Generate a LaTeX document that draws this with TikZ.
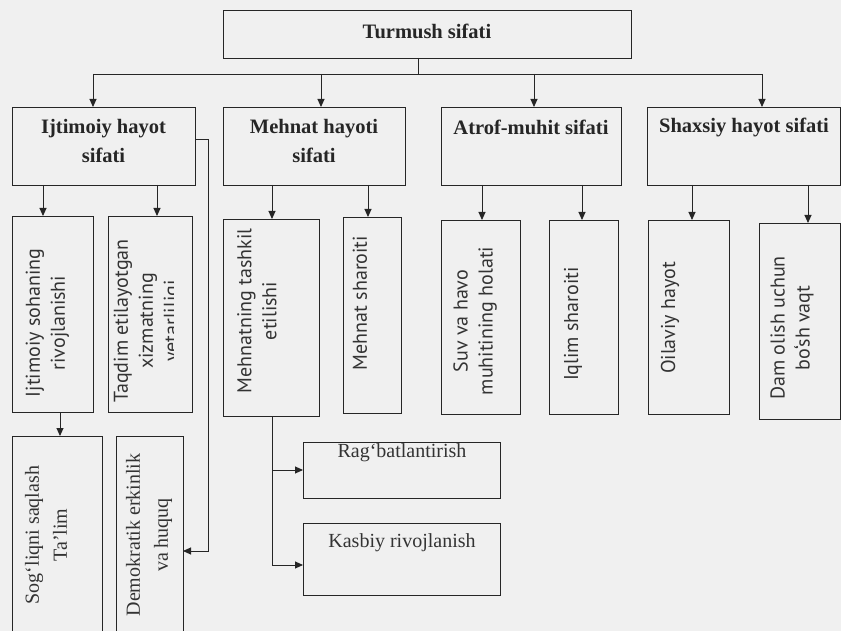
\documentclass[tikz,border=0pt]{standalone}
\usepackage{fontspec}
\setmainfont{Liberation Serif}
\newfontfamily\rotsans{PT Sans}
\usetikzlibrary{arrows.meta}
\begin{document}
\begin{tikzpicture}[x=1pt,y=-1pt,
  ln/.style={draw=black!85, line width=0.9pt},
  arr/.style={ln, -{Triangle[length=8pt,width=7pt]}},
  bx/.style={ln, inner sep=0pt, outer sep=0pt},
  lbl/.style={font=\fontsize{20.5}{29}\selectfont\bfseries, align=center, inner sep=0pt, text=black!85},
  rt/.style={font=\rotsans\fontsize{20}{25}\selectfont, align=center, rotate=90, inner sep=0pt, text=black!80},
  rs/.style={font=\fontsize{20}{28}\selectfont, align=center, rotate=90, inner sep=0pt, text=black!80},
  st/.style={font=\fontsize{20}{28}\selectfont, align=center, inner sep=0pt, text=black!80}]
\useasboundingbox (0,0) rectangle (841,631);
\fill[black!6] (0,0) rectangle (841,631);

% boxes
\node[bx, minimum width=408pt, minimum height=48pt] (top) at (427,34) {};
\node[bx, minimum width=183pt, minimum height=78pt] (ijt) at (103.5,146) {};
\node[bx, minimum width=182pt, minimum height=78pt] (meh) at (314,146) {};
\node[bx, minimum width=180pt, minimum height=78pt] (atr) at (531,146) {};
\node[bx, minimum width=193pt, minimum height=78pt] (sha) at (743.5,146) {};

\node[bx, minimum width=81pt, minimum height=196pt] (b1) at (52.5,314) {};
\node[bx, minimum width=84pt, minimum height=196pt] (b2) at (150,314) {};
\node[bx, minimum width=96pt, minimum height=197pt] (b3) at (271,317.5) {};
\node[bx, minimum width=58pt, minimum height=196pt] (b4) at (372,315) {};
\node[bx, minimum width=79pt, minimum height=194pt] (b5) at (480.5,317) {};
\node[bx, minimum width=69pt, minimum height=194pt] (b6) at (583.5,317) {};
\node[bx, minimum width=81pt, minimum height=194pt] (b7) at (688.5,317) {};
\node[bx, minimum width=81pt, minimum height=196pt] (b8) at (799.5,321) {};

\node[bx, minimum width=90pt, minimum height=204pt] (b9) at (57,538) {};
\node[bx, minimum width=67pt, minimum height=204pt] (b10) at (149.5,538) {};
\node[bx, minimum width=197pt, minimum height=56pt] (b11) at (401.5,470) {};
\node[bx, minimum width=197pt, minimum height=72pt] (b12) at (401.5,559) {};

% texts
\node[lbl] (ttop) at (427,31) {Turmush sifati};
\node[lbl] (tijt) at (103.5,141) {Ijtimoiy hayot\\sifati};
\node[lbl] (tmeh) at (314,141) {Mehnat hayoti\\sifati};
\node[lbl] (tatr) at (531,127) {Atrof-muhit sifati};
\node[lbl] (tsha) at (744,127) {Shaxsiy hayot sifati};

\node[rt] (t1) at (47.5,323) {Ijtimoiy sohaning\\rivojlanishi};
\begin{scope}
  \clip (108,216) rectangle (173,412);
  \node[rt] (t2) at (148,321) {Taqdim etilayotgan\\xizmatning\\yetarliligi};
\end{scope}
\node[rt] (t3) at (257,311) {Mehnatning tashkil\\etilishi};
\node[rt] (t4) at (360,303) {Mehnat sharoiti};
\node[rt] (t5) at (475,321) {Suv va havo\\muhitining holati};
\node[rt] (t6) at (573,324) {Iqlim sharoiti};
\node[rt] (t7) at (670,318) {Oilaviy hayot};
\node[rt] (t8) at (792,328) {Dam olish uchun\\bo‘sh vaqt};

\node[rs] (t9) at (46,535) {Sog‘liqni saqlash\\Ta’lim};
\node[rs] (t10) at (149,535) {Demokratik erkinlik\\va huquq};
\node[st] (t11) at (402,453) {Rag‘batlantirish};
\node[st] (t12) at (402,543) {Kasbiy rivojlanish};

% connector coordinates
\coordinate (jt) at (418,74);
\coordinate (jl) at (93,74);
\coordinate (jm1) at (321,74);
\coordinate (jm2) at (534,74);
\coordinate (jr) at (762,74);
\coordinate (a1) at (43,0);
\coordinate (a2) at (157,0);
\coordinate (a3) at (272,0);
\coordinate (a4) at (368,0);
\coordinate (a5) at (482,0);
\coordinate (a6) at (582,0);
\coordinate (a7) at (692,0);
\coordinate (a8) at (808,0);
\coordinate (a9) at (60,0);
\coordinate (side) at (208,551);

% connectors
\draw[ln] (jt |- top.south) -- (jt);
\draw[ln] (jl) -- (jr);
\draw[arr] (jl) -- (jl |- ijt.north);
\draw[arr] (jm1) -- (jm1 |- meh.north);
\draw[arr] (jm2) -- (jm2 |- atr.north);
\draw[arr] (jr) -- (jr |- sha.north);

\draw[arr] (a1 |- ijt.south) -- (a1 |- b1.north);
\draw[arr] (a2 |- ijt.south) -- (a2 |- b2.north);
\draw[arr] (a3 |- meh.south) -- (a3 |- b3.north);
\draw[arr] (a4 |- meh.south) -- (a4 |- b4.north);
\draw[arr] (a5 |- atr.south) -- (a5 |- b5.north);
\draw[arr] (a6 |- atr.south) -- (a6 |- b6.north);
\draw[arr] (a7 |- sha.south) -- (a7 |- b7.north);
\draw[arr] (a8 |- sha.south) -- (a8 |- b8.north);

\draw[arr] (a9 |- b1.south) -- (a9 |- b9.north);
\draw[arr] ([yshift=7pt]ijt.east) -| (side) -- (b10.east |- side);

\draw[arr] (a3 |- b3.south) |- ([yshift=-6pt]b12.west);
\draw[arr] (a3 |- b11.west) -- (b11.west);
\end{tikzpicture}
\end{document}
